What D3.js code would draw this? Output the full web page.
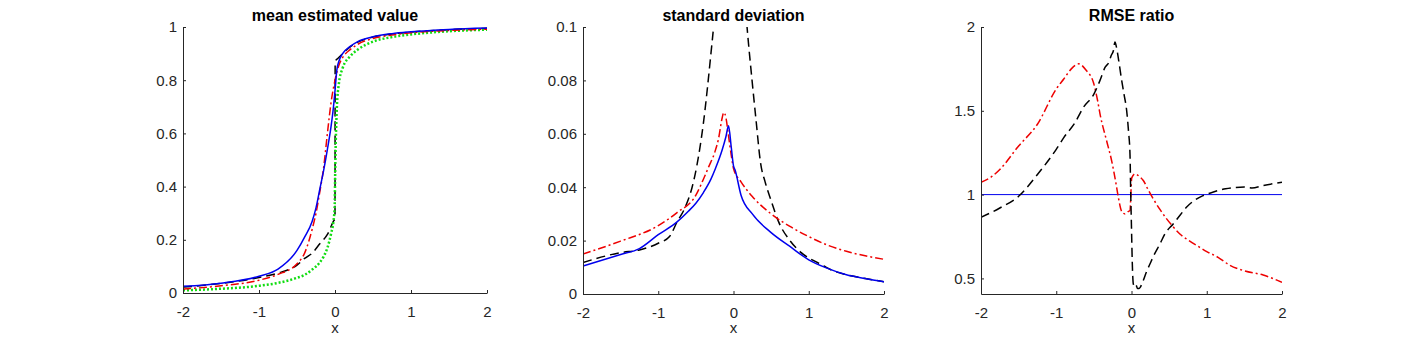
<!DOCTYPE html>
<html>
<head>
<meta charset="utf-8">
<script src="https://cdn.jsdelivr.net/npm/d3@7"></script>
<style>
  body { margin: 0; background: #fff; }
  svg { display: block; font-family: "Liberation Sans", Arial, sans-serif; }
</style>
</head>
<body>
<div id="chart"></div>
<script>
// ---- data ----
var xTicks = [-2, -1, 0, 1, 2];

// panel 1: mean estimated value
var m_blue_x = [-2, -1.5, -1, -0.75, -0.5, -0.4, -0.3, -0.25, -0.2, -0.15, -0.1, -0.05, -0.02, 0, 0.025, 0.05, 0.1, 0.2, 0.3, 0.5, 0.75, 1, 1.5, 2];
var m_blue_y = [0.025, 0.037, 0.063, 0.09, 0.16, 0.21, 0.27, 0.32, 0.39, 0.46, 0.54, 0.63, 0.7, 0.76, 0.84, 0.87, 0.9, 0.927, 0.945, 0.963, 0.975, 0.982, 0.991, 0.996];
var m_red_x = [-2, -1.5, -1, -0.75, -0.5, -0.4, -0.3, -0.25, -0.2, -0.15, -0.1, -0.05, 0, 0.05, 0.1, 0.2, 0.3, 0.5, 0.75, 1, 1.5, 2];
var m_red_y = [0.015, 0.027, 0.048, 0.07, 0.11, 0.15, 0.24, 0.3, 0.38, 0.47, 0.6, 0.72, 0.8, 0.855, 0.885, 0.915, 0.935, 0.957, 0.97, 0.978, 0.987, 0.992];
var m_black_x = [-2, -1.5, -1, -0.75, -0.5, -0.4, -0.3, -0.2, -0.1, -0.02, 0, 0.002, 0.05, 0.1, 0.2, 0.3, 0.5, 0.75, 1, 1.5, 2];
var m_black_y = [0.022, 0.036, 0.058, 0.075, 0.105, 0.13, 0.15, 0.185, 0.22, 0.27, 0.28, 0.87, 0.885, 0.9, 0.925, 0.943, 0.962, 0.974, 0.981, 0.99, 0.995];
var m_green_x = [-2, -1.5, -1, -0.75, -0.5, -0.4, -0.3, -0.2, -0.15, -0.1, -0.05, -0.02, -0.005, 0.005, 0.015, 0.025, 0.05, 0.1, 0.2, 0.3, 0.5, 0.75, 1, 1.5, 2];
var m_green_y = [0.01, 0.016, 0.027, 0.038, 0.057, 0.068, 0.088, 0.115, 0.137, 0.17, 0.225, 0.27, 0.32, 0.5, 0.62, 0.7, 0.785, 0.845, 0.89, 0.915, 0.945, 0.962, 0.972, 0.984, 0.99];

// panel 2: standard deviation
var s_blue_x = [-2, -1.5, -1.25, -1, -0.75, -0.6, -0.5, -0.4, -0.3, -0.24, -0.15, -0.1, -0.066, -0.03, 0, 0.02, 0.1, 0.25, 0.5, 0.75, 1, 1.25, 1.5, 1.75, 2];
var s_blue_y = [0.0105, 0.0148, 0.017, 0.0222, 0.027, 0.031, 0.034, 0.038, 0.043, 0.047, 0.054, 0.059, 0.063, 0.055, 0.048, 0.0465, 0.037, 0.03, 0.023, 0.0178, 0.0128, 0.0096, 0.0072, 0.0058, 0.0046];
var s_red_x = [-2, -1.5, -1, -0.75, -0.5, -0.4, -0.33, -0.25, -0.2, -0.15, -0.13, -0.1, -0.07, -0.03, 0, 0.1, 0.25, 0.5, 0.75, 1, 1.25, 1.5, 1.75, 2];
var s_red_y = [0.015, 0.0198, 0.0256, 0.0305, 0.037, 0.043, 0.0476, 0.053, 0.058, 0.066, 0.068, 0.066, 0.06, 0.052, 0.047, 0.042, 0.0365, 0.03, 0.0253, 0.0215, 0.0183, 0.016, 0.0143, 0.013];
var s_black_x = [-2, -1.5, -1.25, -1, -0.85, -0.75, -0.65, -0.55, -0.49, -0.4, -0.3, -0.265, -0.2, -0.1, 0, 0.1, 0.18, 0.25, 0.3, 0.36, 0.42, 0.5, 0.6, 0.75, 0.9, 1, 1.1, 1.2, 1.3, 1.5, 1.75, 2];
var s_black_y = [0.0118, 0.0155, 0.0165, 0.019, 0.0215, 0.027, 0.032, 0.04, 0.0476, 0.064, 0.09, 0.1, 0.125, 0.15, 0.155, 0.13, 0.1, 0.079, 0.065, 0.049, 0.042, 0.035, 0.027, 0.02, 0.0155, 0.0135, 0.012, 0.0105, 0.009, 0.0072, 0.0058, 0.0046];

// panel 3: RMSE ratio
var r_blue_x = [-2, 2];
var r_blue_y = [1, 1];
var r_red_x = [-2, -1.85, -1.75, -1.5, -1.25, -1, -0.9, -0.8, -0.7, -0.6, -0.507, -0.45, -0.418, -0.33, -0.263, -0.2, -0.175, -0.13, -0.086, -0.04, -0.02, 0.003, 0.046, 0.1, 0.157, 0.22, 0.29, 0.38, 0.467, 0.55, 0.643, 0.75, 0.908, 1, 1.15, 1.3, 1.5, 1.75, 2];
var r_red_y = [1.074, 1.11, 1.15, 1.29, 1.42, 1.63, 1.69, 1.75, 1.78, 1.74, 1.67, 1.56, 1.48, 1.32, 1.2, 1.05, 0.984, 0.9, 0.885, 0.9, 0.905, 1.1, 1.124, 1.11, 1.084, 1.03, 0.974, 0.91, 0.855, 0.81, 0.765, 0.73, 0.685, 0.66, 0.626, 0.58, 0.545, 0.52, 0.477];
var r_black_x = [-2, -1.75, -1.5, -1.25, -1, -0.9, -0.75, -0.64, -0.5, -0.42, -0.35, -0.3, -0.27, -0.24, -0.22, -0.2, -0.17, -0.13, -0.1, -0.064, -0.04, -0.02, -0.01, 0, 0.01, 0.024, 0.04, 0.06, 0.08, 0.1, 0.12, 0.15, 0.2, 0.245, 0.3, 0.378, 0.45, 0.554, 0.65, 0.73, 0.85, 0.95, 1.05, 1.15, 1.25, 1.5, 1.6, 1.75, 2];
var r_black_y = [0.865, 0.92, 0.99, 1.12, 1.27, 1.34, 1.43, 1.52, 1.6, 1.68, 1.76, 1.79, 1.83, 1.86, 1.91, 1.88, 1.8, 1.68, 1.6, 1.5, 1.38, 1.24, 1.0, 0.8, 0.6, 0.467, 0.45, 0.46, 0.44, 0.44, 0.45, 0.48, 0.54, 0.586, 0.64, 0.706, 0.77, 0.825, 0.88, 0.924, 0.97, 0.994, 1.01, 1.024, 1.035, 1.045, 1.04, 1.054, 1.074];

// ---- layout ----
var W = 1417, H = 340;
var axColor = "#262626";

var svg = d3.select("#chart").append("svg")
  .attr("width", W)
  .attr("height", H);

function zip(xs, ys) {
  return xs.map(function (x, i) { return [x, ys[i]]; });
}

var panels = [
  {
    title: "mean estimated value",
    left: 183, right: 487, top: 27, bottom: 293,
    yDomain: [0, 1], yTicks: [0, 0.2, 0.4, 0.6, 0.8, 1],
    series: [
      { x: m_black_x, y: m_black_y, color: "#000000", width: 1.5, dash: "9,5" },
      { x: m_green_x, y: m_green_y, color: "#11dd11", width: 2.5, dash: "2,2" },
      { x: m_red_x, y: m_red_y, color: "#ee0000", width: 1.5, dash: "8,3,2,3" },
      { x: m_blue_x, y: m_blue_y, color: "#0000ee", width: 1.5, dash: null }
    ]
  },
  {
    title: "standard deviation",
    left: 583, right: 884, top: 27, bottom: 294,
    yDomain: [0, 0.1], yTicks: [0, 0.02, 0.04, 0.06, 0.08, 0.1],
    series: [
      { x: s_black_x, y: s_black_y, color: "#000000", width: 1.5, dash: "9,5" },
      { x: s_red_x, y: s_red_y, color: "#ee0000", width: 1.5, dash: "8,3,2,3" },
      { x: s_blue_x, y: s_blue_y, color: "#0000ee", width: 1.5, dash: null }
    ]
  },
  {
    title: "RMSE ratio",
    left: 981, right: 1282, top: 27, bottom: 294,
    yDomain: [0.407, 2], yTicks: [0.5, 1, 1.5, 2],
    series: [
      { x: r_blue_x, y: r_blue_y, color: "#0000ee", width: 1, dash: null },
      { x: r_red_x, y: r_red_y, color: "#ee0000", width: 1.5, dash: "8,3,2,3" },
      { x: r_black_x, y: r_black_y, color: "#000000", width: 1.5, dash: "9,5" }
    ]
  }
];

// plain hyphen minus like the original figure
function fmt(d) { return String(+d.toFixed(3)); }

panels.forEach(function (p, pi) {
  var x = d3.scaleLinear().domain([-2, 2]).range([p.left, p.right]);
  var y = d3.scaleLinear().domain(p.yDomain).range([p.bottom, p.top]);

  svg.append("clipPath").attr("id", "clip" + pi)
    .append("rect")
    .attr("x", p.left).attr("y", p.top)
    .attr("width", p.right - p.left).attr("height", p.bottom - p.top);

  var line = d3.line()
    .x(function (d) { return x(d[0]); })
    .y(function (d) { return y(d[1]); })
    .curve(d3.curveMonotoneX);

  var g = svg.append("g").attr("clip-path", "url(#clip" + pi + ")");
  p.series.forEach(function (s) {
    g.append("path")
      .datum(zip(s.x, s.y))
      .attr("d", line)
      .attr("fill", "none")
      .attr("stroke", s.color)
      .attr("stroke-width", s.width)
      .attr("stroke-dasharray", s.dash);
  });

  // axes, ticks pointing inward
  var xAxis = svg.append("g")
    .attr("transform", "translate(0," + p.bottom + ")")
    .call(d3.axisBottom(x).tickValues(xTicks).tickSizeInner(-3).tickSizeOuter(0)
      .tickFormat(fmt).tickPadding(13));
  var yAxis = svg.append("g")
    .attr("transform", "translate(" + p.left + ",0)")
    .call(d3.axisLeft(y).tickValues(p.yTicks).tickSizeInner(-3).tickSizeOuter(0)
      .tickFormat(fmt).tickPadding(6));

  [xAxis, yAxis].forEach(function (a) {
    a.attr("font-size", null).attr("font-family", null);
    a.select(".domain").attr("stroke", axColor).attr("stroke-width", 1);
    a.selectAll(".tick line").attr("stroke", axColor);
    a.selectAll(".tick text")
      .attr("fill", axColor)
      .style("font-size", "15px");
  });

  // title
  svg.append("text")
    .attr("x", (p.left + p.right) / 2)
    .attr("y", 21)
    .attr("text-anchor", "middle")
    .style("font-size", "16px")
    .style("font-weight", "bold")
    .attr("fill", "#000")
    .text(p.title);

  // x label
  svg.append("text")
    .attr("x", (p.left + p.right) / 2)
    .attr("y", 333)
    .attr("text-anchor", "middle")
    .style("font-size", "15px")
    .attr("fill", axColor)
    .text("x");
});
</script>
</body>
</html>
